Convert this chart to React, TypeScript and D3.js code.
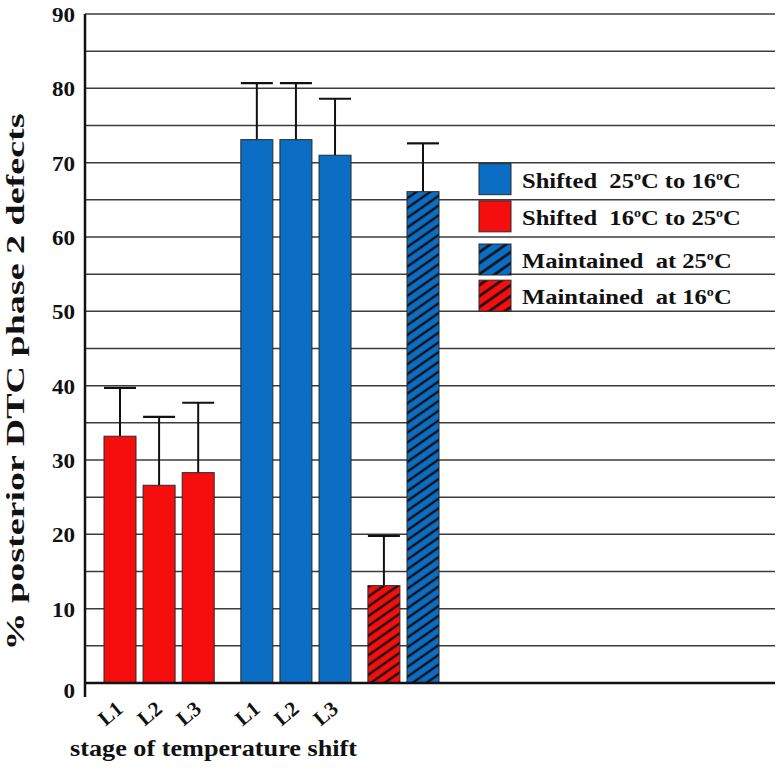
import React from "react";
import * as d3 from "d3";

// data
const stages = ["L1", "L2", "L3"];
const shifted16to25 = [33.2, 26.6, 28.3];
const shifted16to25Err = [6.5, 9.2, 9.4];
const shifted25to16 = [73.1, 73.1, 71.0];
const shifted25to16Err = [7.6, 7.6, 7.6];
const maintained16 = 13.1;
const maintained16Err = 6.7;
const maintained25 = 66.1;
const maintained25Err = 6.5;
const yTicks = [0, 10, 20, 30, 40, 50, 60, 70, 80, 90];
const legendItems = [
  { pre: "Shifted  ", a: "25", b: "16", key: "blue" },
  { pre: "Shifted  ", a: "16", b: "25", key: "red" },
  { pre: "Maintained  at ", a: "25", key: "blueHatch" },
  { pre: "Maintained  at ", a: "16", key: "redHatch" },
];

const RED = "#f60d0d";
const BLUE = "#0b6dc4";
const FONT = "\"Liberation Serif\", \"Times New Roman\", Times, serif";

type Bar = { label: string; value: number; err: number; slot: number; fill: string };

const App = () => {
  const width = 780;
  const height = 776;

  const y = d3.scaleLinear().domain([0, 90]).range([683, 14]);
  const x = d3.scaleLinear().domain([0, 7.75]).range([120, 423]);
  const barW = 32;
  const left = 85;
  const right = 775;

  // group starts, in bar slots
  const groupStart = [0, 3.5, 6.75];

  const bars: Bar[] = [
    ...stages.map((s, i) => ({ label: s, value: shifted16to25[i], err: shifted16to25Err[i], slot: groupStart[0] + i, fill: RED })),
    ...stages.map((s, i) => ({ label: s, value: shifted25to16[i], err: shifted25to16Err[i], slot: groupStart[1] + i, fill: BLUE })),
    { label: "", value: maintained16, err: maintained16Err, slot: groupStart[2], fill: "url(#hatchRed)" },
    { label: "", value: maintained25, err: maintained25Err, slot: groupStart[2] + 1, fill: "url(#hatchBlue)" },
  ];

  const swatchFill: Record<string, string> = {
    blue: BLUE,
    red: RED,
    blueHatch: "url(#legHatchBlue)",
    redHatch: "url(#legHatchRed)",
  };
  // legend rows sit in the grid cells below 70
  const legendNudge = [1, 1, 7, 6];

  const hatch = (id: string, color: string, size: number, sw: number) => (
    <pattern id={id} patternUnits="userSpaceOnUse" width={size} height={size} patternTransform="rotate(-35)">
      <rect width={size} height={size} fill={color} />
      <line x1={0} y1={size / 2} x2={size} y2={size / 2} stroke="#111" strokeWidth={sw} />
    </pattern>
  );

  const textStyle = { fontFamily: FONT, fontWeight: 700 } as React.CSSProperties;

  return (
    <svg width={width} height={height} style={{ display: "block", position: "absolute", left: 0, top: 0, background: "#fff" }}>
      <defs>
        {hatch("hatchRed", RED, 8, 2.4)}
        {hatch("hatchBlue", BLUE, 8, 2.4)}
        {hatch("legHatchRed", RED, 9, 2.6)}
        {hatch("legHatchBlue", BLUE, 9, 2.6)}
      </defs>
      <rect width={width} height={height} fill="#fff" />

      {/* grid every 5 */}
      {d3.range(5, 95, 5).map((v) => (
        <line key={v} x1={left} x2={right} y1={y(v)} y2={y(v)} stroke="#3c3c3c" strokeWidth={1.5} />
      ))}

      {/* bars */}
      {bars.map((b, i) => {
        const cx = x(b.slot);
        return (
          <g key={i}>
            <line x1={cx} x2={cx} y1={y(b.value)} y2={y(b.value + b.err)} stroke="#111" strokeWidth={2} />
            <line x1={cx - barW / 2} x2={cx + barW / 2} y1={y(b.value + b.err)} y2={y(b.value + b.err)} stroke="#111" strokeWidth={2.2} />
            <rect x={cx - barW / 2} y={y(b.value)} width={barW} height={y(0) - y(b.value)} fill={b.fill} stroke="#2a2a2a" strokeWidth={1} />
          </g>
        );
      })}

      {/* axes */}
      <line x1={left} x2={right} y1={y(0)} y2={y(0)} stroke="#111" strokeWidth={2.5} />
      <line x1={left} x2={left} y1={y(90)} y2={697} stroke="#111" strokeWidth={2.5} />

      {/* y tick labels */}
      {yTicks.map((t) => (
        <text
          key={t}
          transform={`translate(75,${y(t) + (t === 0 ? 15 : 8)}) scale(1.05,1)`}
          textAnchor="end"
          fontSize={22}
          fill="#111"
          style={textStyle}
        >
          {t}
        </text>
      ))}

      {/* x tick labels */}
      {bars
        .filter((b) => b.label)
        .map((b, i) => (
          <text
            key={i}
            transform={`translate(${x(b.slot) - 5},${y(0) + 36}) rotate(-40)`}
            textAnchor="middle"
            fontSize={21}
            fill="#111"
            style={textStyle}
          >
            {b.label}
          </text>
        ))}

      {/* axis titles */}
      <text x={70} y={756} fontSize={23} fill="#111" textLength={287} lengthAdjust="spacingAndGlyphs" style={textStyle}>
        stage of temperature shift
      </text>
      <text
        transform="translate(24,382) rotate(-90)"
        textAnchor="middle"
        fontSize={25}
        fill="#111"
        textLength={537}
        lengthAdjust="spacingAndGlyphs"
        style={textStyle}
      >
        % posterior DTC phase 2 defects
      </text>

      {/* legend */}
      {legendItems.map((it, i) => {
        const top = y(70 - 5 * i) + legendNudge[i];
        return (
          <g key={it.key}>
            <rect x={479} y={top} width={32} height={31} fill={swatchFill[it.key]} stroke="#2a2a2a" strokeWidth={1} />
            <text
              transform={`translate(522,${top + 24}) scale(1.17,1)`}
              fontSize={21}
              fill="#111"
              style={{ ...textStyle, whiteSpace: "pre" }}
            >
              {it.pre}
              {it.a}
              <tspan dy={-8} fontSize={12}>o</tspan>
              <tspan dy={8}>C</tspan>
              {it.b ? (
                <>
                  <tspan>{" to " + it.b}</tspan>
                  <tspan dy={-8} fontSize={12}>o</tspan>
                  <tspan dy={8}>C</tspan>
                </>
              ) : null}
            </text>
          </g>
        );
      })}
    </svg>
  );
};

export default App;
